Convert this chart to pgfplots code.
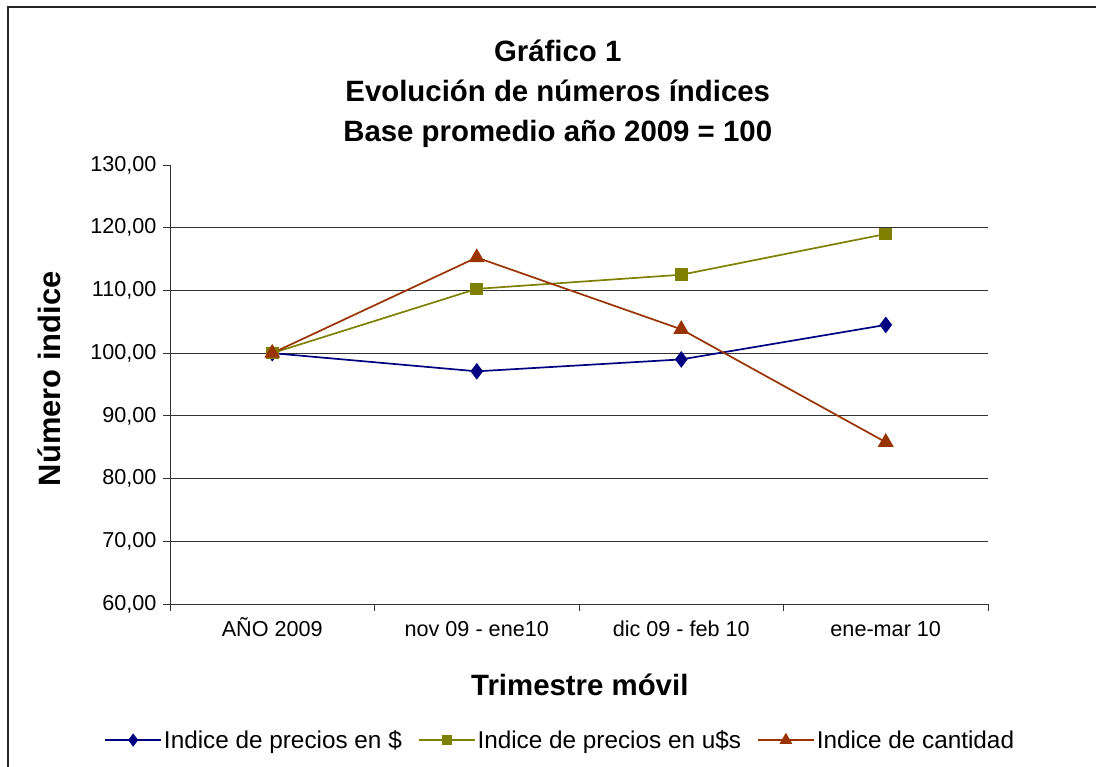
\documentclass[border=0pt]{standalone}
\usepackage{fontspec}
\setmainfont{Liberation Sans}
\usepackage{pgfplots}
\pgfplotsset{compat=1.18}
\definecolor{cnavy}{RGB}{0,0,128}
\definecolor{colive}{RGB}{128,128,0}
\definecolor{cbrown}{RGB}{153,51,0}
\begin{document}
\begin{tikzpicture}
\useasboundingbox (0bp,0bp) rectangle (1096bp,767bp);
\draw[line width=1.8bp, black!85] (8bp,-5bp) -- (8bp,760bp) -- (1100bp,760bp);
\begin{axis}[
  at={(170bp,163bp)}, anchor=south west,
  scale only axis, width=818bp, height=439bp,
  xmin=-0.5, xmax=3.5, ymin=60, ymax=130,
  axis x line*=bottom, axis y line*=left,
  axis line style={line width=1bp, black!80, -},
  tick align=outside,
  tick style={line width=1bp, black!80},
  major tick length=7bp,
  xtick={-0.5,0.5,1.5,2.5,3.5},
  xticklabels={},
  extra x ticks={0,1,2,3},
  extra x tick labels={AÑO 2009, nov 09 - ene10, dic 09 - feb 10, ene-mar 10},
  extra x tick style={major tick length=0pt, grid=none},
  ytick={60,70,...,120},
  extra y ticks={130},
  extra y tick style={grid=none},
  ymajorgrids,
  major grid style={line width=1bp, black!80},
  /pgf/number format/fixed,
  /pgf/number format/fixed zerofill,
  /pgf/number format/precision=2,
  /pgf/number format/use comma,
  /pgf/number format/assume math mode=true,
  ticklabel style={font=\fontsize{21.7}{26}\selectfont},
  xticklabel style={yshift=-9bp, text height=20bp, text depth=5bp},
  yticklabel style={xshift=-3bp},
  xlabel={Trimestre móvil},
  ylabel={Número indice},
  label style={font=\bfseries\fontsize{29.5}{35}\selectfont},
  xlabel style={at={(axis description cs:0.501,-0.185)}, anchor=center},
  ylabel style={at={(axis description cs:-0.148,0.513)}, anchor=center, font=\bfseries\fontsize{31}{36}\selectfont},
  title={Gráfico 1\\Evolución de números índices\\Base promedio año 2009 = 100},
  title style={align=center, font=\bfseries\fontsize{29.5}{40}\selectfont, at={(axis description cs:0.474,1.0)}, anchor=south, yshift=8bp},
  legend columns=3,
  legend style={draw=none, fill=none, at={(axis description cs:0.477,-0.31)}, anchor=center,
    font=\fontsize{24.4}{28}\selectfont,
    /tikz/every even column/.append style={column sep=14bp},
    nodes={inner sep=2bp}},
  legend image code/.code={\draw[mark repeat=2,mark phase=2,mark size=0.75*\pgfplotmarksize] plot coordinates {(0bp,0bp) (28bp,0bp) (56bp,0bp)};},
  every axis plot/.append style={line width=1.7bp},
]
\addplot[color=cnavy, mark=diamond*, mark size=7bp, mark options={solid}] coordinates {(0,100) (1,97.1) (2,99.0) (3,104.5)};
\addlegendentry{Indice de precios en \$}
\addplot[color=colive, mark=square*, mark size=5.5bp] coordinates {(0,100) (1,110.25) (2,112.5) (3,119.0)};
\addlegendentry{Indice de precios en u\$s}
\addplot[color=cbrown, mark=triangle*, mark size=7.5bp] coordinates {(0,100) (1,115.25) (2,103.8) (3,85.8)};
\addlegendentry{Indice de cantidad}
\end{axis}
\end{tikzpicture}
\end{document}
